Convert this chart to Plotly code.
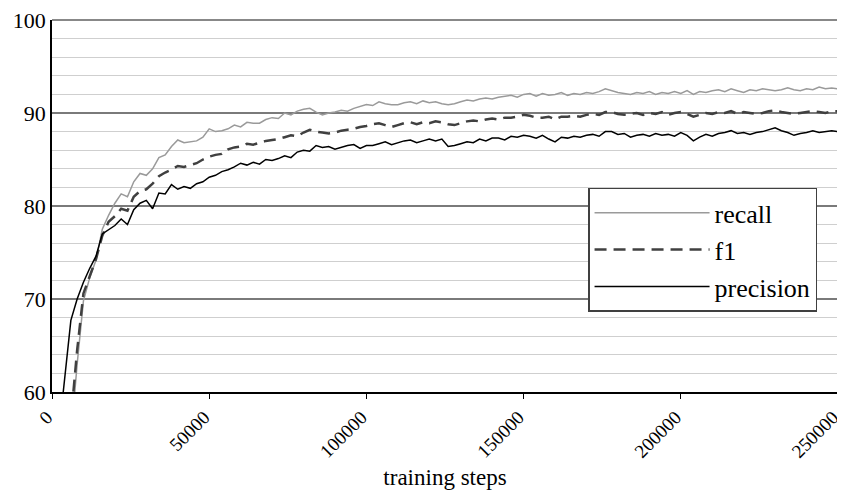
import plotly.graph_objects as go

steps = [2000, 4000, 6000, 8000, 10000, 12000, 14000, 16000, 18000, 20000,
         22000, 24000, 26000, 28000, 30000, 32000, 34000, 36000, 38000, 40000,
         42000, 44000, 46000, 48000, 50000, 52000, 54000, 56000, 58000, 60000,
         62000, 64000, 66000, 68000, 70000, 72000, 74000, 76000, 78000, 80000,
         82000, 84000, 86000, 88000, 90000, 92000, 94000, 96000, 98000, 100000,
         102000, 104000, 106000, 108000, 110000, 112000, 114000, 116000, 118000, 120000,
         122000, 124000, 126000, 128000, 130000, 132000, 134000, 136000, 138000, 140000,
         142000, 144000, 146000, 148000, 150000, 152000, 154000, 156000, 158000, 160000,
         162000, 164000, 166000, 168000, 170000, 172000, 174000, 176000, 178000, 180000,
         182000, 184000, 186000, 188000, 190000, 192000, 194000, 196000, 198000, 200000,
         202000, 204000, 206000, 208000, 210000, 212000, 214000, 216000, 218000, 220000,
         222000, 224000, 226000, 228000, 230000, 232000, 234000, 236000, 238000, 240000,
         242000, 244000, 246000, 248000, 250000]

precision = [55.0, 61.5, 67.7, 70.0, 71.8, 73.3, 74.6, 77.0, 77.5, 77.9,
             78.6, 78.0, 79.6, 80.3, 80.6, 79.7, 81.4, 81.3, 82.3, 81.8,
             82.1, 81.9, 82.4, 82.6, 83.1, 83.3, 83.7, 83.9, 84.2, 84.6,
             84.4, 84.7, 84.5, 85.0, 84.9, 85.1, 85.4, 85.2, 85.8, 86.0,
             85.9, 86.5, 86.3, 86.4, 86.1, 86.3, 86.5, 86.6, 86.2, 86.5,
             86.5, 86.7, 86.9, 86.6, 86.8, 87.0, 87.1, 86.8, 87.0, 87.2,
             87.0, 87.2, 86.4, 86.5, 86.7, 86.9, 86.8, 87.2, 87.0, 87.3,
             87.3, 87.1, 87.5, 87.4, 87.6, 87.5, 87.3, 87.6, 87.2, 86.9,
             87.4, 87.3, 87.5, 87.4, 87.6, 87.7, 87.5, 88.0, 88.0, 87.7,
             87.8, 87.4, 87.6, 87.7, 87.5, 87.8, 87.6, 87.7, 87.5, 87.9,
             87.6, 87.0, 87.4, 87.7, 87.5, 87.8, 87.9, 88.1, 87.8, 87.9,
             87.7, 87.9, 88.0, 88.2, 88.4, 88.1, 87.9, 87.6, 87.8, 87.9,
             88.1, 87.9, 88.0, 88.1, 88.0]

recall = [50.0, 50.0, 55.0, 63.0, 69.8, 72.3, 74.2, 77.5, 79.0, 80.3,
          81.3, 81.0, 82.6, 83.5, 83.3, 84.0, 85.2, 85.5, 86.4, 87.1,
          86.8, 86.9, 87.0, 87.4, 88.3, 88.0, 88.1, 88.3, 88.7, 88.5,
          89.0, 88.9, 88.9, 89.3, 89.5, 89.4, 90.0, 89.8, 90.2, 90.4,
          90.5, 90.1, 89.8, 90.0, 90.1, 90.3, 90.2, 90.5, 90.7, 90.9,
          90.8, 91.2, 91.0, 90.9, 90.9, 91.1, 91.2, 91.0, 91.3, 91.1,
          91.2, 91.0, 90.9, 91.0, 91.2, 91.4, 91.3, 91.5, 91.6, 91.5,
          91.7, 91.8, 91.9, 91.7, 92.0, 92.1, 91.8, 92.1, 91.9, 92.0,
          92.2, 91.9, 92.1, 92.0, 92.2, 92.1, 92.3, 92.6, 92.4, 92.2,
          92.1, 92.0, 92.2, 92.1, 92.3, 92.0, 92.2, 92.1, 92.3, 92.1,
          92.4, 92.0, 92.3, 92.2, 92.4, 92.5, 92.3, 92.6, 92.4, 92.2,
          92.5, 92.4, 92.6, 92.5, 92.4, 92.5, 92.7, 92.5, 92.4, 92.6,
          92.5, 92.8, 92.6, 92.7, 92.6]

f1 = [50.0, 52.0, 57.0, 64.5, 70.6, 72.4, 74.3, 76.8, 78.3, 78.9,
      79.7, 79.5, 81.0, 81.6, 81.8, 82.4, 83.2, 83.6, 83.9, 84.3,
      84.2, 84.4, 84.6, 85.0, 85.3, 85.5, 85.6, 86.1, 86.3, 86.4,
      86.7, 86.6, 86.8, 87.0, 87.1, 87.2, 87.4, 87.6, 87.5, 87.9,
      88.2, 88.0, 87.9, 87.8, 87.9, 88.1, 88.2, 88.3, 88.5, 88.6,
      88.8, 88.9, 88.7, 88.5, 88.7, 88.9, 89.0, 88.8, 89.0, 88.9,
      89.1, 89.0, 88.8, 88.7, 88.9, 89.1, 89.2, 89.1, 89.3, 89.4,
      89.3, 89.5, 89.5, 89.6, 89.8, 89.7, 89.5, 89.5, 89.6, 89.3,
      89.6, 89.6, 89.7, 89.6, 89.8, 89.9, 89.8, 90.1, 90.1, 89.9,
      89.8, 89.9, 90.0, 89.8, 90.0, 89.9, 90.1, 89.8, 90.0, 90.1,
      89.9, 89.6, 89.8, 90.0, 89.9, 90.1, 90.0, 90.2, 89.9, 90.1,
      90.0, 89.9, 90.0, 90.2, 90.3, 90.1, 90.0, 89.9, 90.0, 90.1,
      90.2, 90.1, 90.0, 90.2, 90.2]

x_ticks = [0, 50000, 100000, 150000, 200000, 250000]
x_tick_labels = ["0", "50000", "100000", "150000", "200000", "250000"]

FONT = "Liberation Serif, Times New Roman, serif"

fig = go.Figure()
fig.add_trace(go.Scatter(x=steps, y=recall, mode="lines", name="recall",
                         line=dict(color="#9a9a9a", width=1.5)))
fig.add_trace(go.Scatter(x=steps, y=f1, mode="lines", name="f1",
                         line=dict(color="#404040", width=2.5, dash="12px,7px")))
fig.add_trace(go.Scatter(x=steps, y=precision, mode="lines", name="precision",
                         line=dict(color="#000000", width=1.5)))

# page body has an 8px default margin; compensate so the plot sits like the reference
fig.update_layout(
    width=837, height=485,
    margin=dict(l=44, r=7, t=12, b=101, autoexpand=False),
    paper_bgcolor="white", plot_bgcolor="white",
    font=dict(family=FONT, color="black", size=20),
    showlegend=True,
    legend=dict(x=0.682, y=0.382, xanchor="left", yanchor="middle",
                bgcolor="white", bordercolor="#404040", borderwidth=1.5,
                font=dict(family=FONT, size=26, color="black"),
                tracegroupgap=0, itemwidth=115, traceorder="normal"),
    xaxis=dict(range=[0, 250000], tickmode="array", tickvals=x_ticks,
               ticktext=x_tick_labels, tickangle=-45,
               showgrid=False, zeroline=False,
               showline=True, linecolor="black", linewidth=1.5,
               ticks="outside", ticklen=5, tickcolor="black",
               ticklabeloverflow="allow", ticklabelshift=-5,
               tickfont=dict(family=FONT, size=19),
               title=dict(text="training steps", font=dict(family=FONT, size=23),
                          standoff=8)),
    yaxis=dict(range=[60, 100], dtick=10, tick0=60,
               showgrid=True, gridcolor="#7a7a7a", gridwidth=1.5,
               zeroline=False,
               showline=True, linecolor="black", linewidth=1.5,
               ticks="", ticklen=0, ticklabeloverflow="allow",
               tickfont=dict(family=FONT, size=22),
               minor=dict(dtick=2, showgrid=True, gridcolor="#cfcfcf", gridwidth=1)),
)

# top gridline (plotly clips grid lines at the range ends) and right frame edge
fig.add_shape(type="line", xref="paper", yref="paper", x0=0, x1=1, y0=1, y1=1,
              line=dict(color="#606060", width=1.5))
fig.add_shape(type="line", xref="paper", yref="paper", x0=1, x1=1, y0=0, y1=1,
              line=dict(color="#bdbdbd", width=1))

fig.write_html("out.html")
